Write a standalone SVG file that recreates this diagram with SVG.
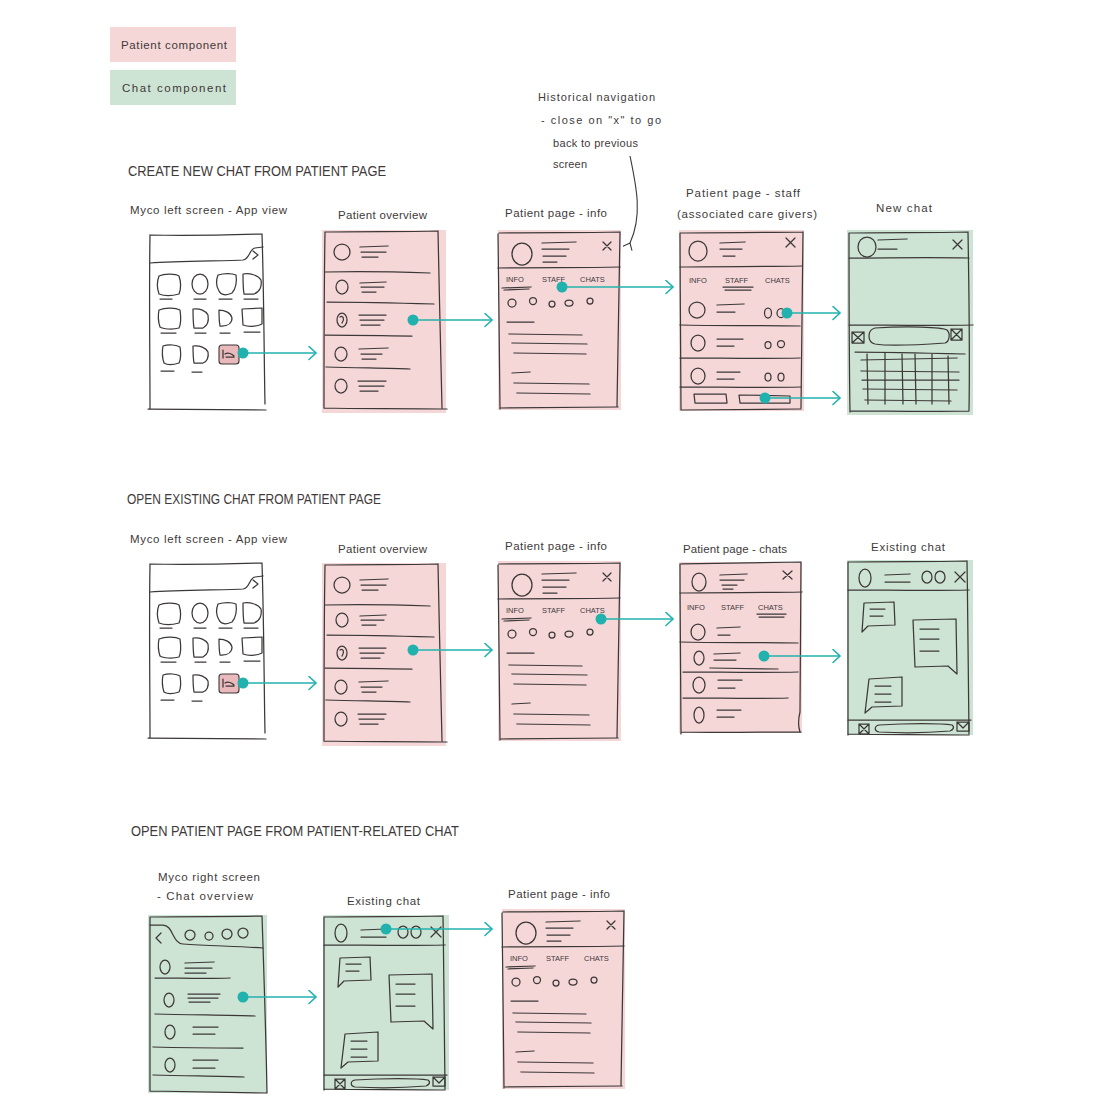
<svg xmlns="http://www.w3.org/2000/svg" xmlns:xlink="http://www.w3.org/1999/xlink" width="1120" height="1120" viewBox="0 0 1120 1120">
<style>
.s{fill:none;stroke:#3d3838;stroke-width:1.25;stroke-linecap:round;stroke-linejoin:round}
.pk{fill:#f5d7d8}
.gr{fill:#cde3d4}
.t{font-family:"Liberation Sans",Arial,sans-serif;fill:#3f3a3a;font-size:11.5px}
.n{font-family:"Liberation Sans",Arial,sans-serif;fill:#3f3a3a;font-size:11px}
.h{font-family:"Liberation Sans",Arial,sans-serif;fill:#3f3a3a;font-size:14px}
.tab{font-family:"Liberation Sans",Arial,sans-serif;fill:#3f3a3a;font-size:7.5px}
.c{fill:none;stroke:#22b2ae;stroke-width:1.6}
.dot{fill:#22b2ae}
</style>
<defs>
<marker id="ah" markerWidth="12" markerHeight="16" refX="8" refY="7" orient="auto" markerUnits="userSpaceOnUse">
<path d="M1,0.5 L8,7 L1,13.5" fill="none" stroke="#22b2ae" stroke-width="1.6" stroke-linecap="round"/>
</marker>
<marker id="ahd" markerWidth="12" markerHeight="12" refX="1" refY="6" orient="auto" markerUnits="userSpaceOnUse">
<path d="M7,1 L1,6 L7,11" fill="none" stroke="#3d3838" stroke-width="1.1"/>
</marker>

<g id="tApp">
<path class="s" d="M2,-1 C40,0 80,-1 114,-2 M114,-2 C116,60 116,120 117,168 M2,-1 C1,60 2,120 2,172 M0,173 C40,173 80,174 118,174"/>
<path class="s" d="M2,27 C30,25 80,25 95,24 C102,23 101,13 107,12 L115,11"/>
<path class="s" d="M105,15 L110,19 L105,23"/>
<path class="s" d="M11,40 C17,37 28,38 31,40 C33,46 33,53 31,58 C24,60 16,60 11,58 C9,52 9,45 11,40 Z"/>
<ellipse class="s" cx="52" cy="48" rx="8" ry="10"/>
<path class="s" d="M70,39 C76,37 84,37 88,39 C89,45 88,53 84,57 C78,60 73,59 71,55 C68,50 68,44 70,39 Z"/>
<path class="s" d="M95,38 C102,37 110,39 113,44 C114,50 112,56 106,58 L96,58 C95,52 95,44 95,38 Z"/>
<path class="s" d="M12,63 L24,63 M46,63 L58,63 M71,63 L84,63 M96,63 L110,63"/>
<path class="s" d="M11,74 C18,71 28,72 32,74 C33,81 33,88 31,92 C24,94 15,93 12,91 C10,85 10,79 11,74 Z"/>
<path class="s" d="M45,73 C52,72 58,75 60,79 C61,85 59,90 55,92 L46,92 C45,86 45,79 45,73 Z"/>
<path class="s" d="M71,74 C77,74 83,77 84,82 C84,87 80,90 74,90 L72,90 C71,85 71,80 71,74 Z"/>
<path class="s" d="M94,73 L114,72 L114,88 C108,91 100,91 95,89 Z"/>
<path class="s" d="M13,97 L28,97 M47,97 L58,97 M72,97 L82,97 M96,96 L112,96"/>
<path class="s" d="M15,110 C21,108 29,109 32,111 C33,117 33,123 31,127 C25,129 19,129 16,127 C14,121 14,115 15,110 Z"/>
<path class="s" d="M45,110 C52,109 58,112 60,116 C61,121 59,126 55,127 L46,127 C45,121 45,115 45,110 Z"/>
<rect x="71" y="109" width="20" height="19" rx="3" fill="#e9b9bb" stroke="#3d3838" stroke-width="1.1"/>
<path class="s" stroke-width="0.8" d="M75,114 L75,122 M77,118 C80,116 84,118 86,120 M78,121 L86,121"/>
<path class="s" d="M13,135 L26,135 M44,136 L54,136"/>
</g>

<g id="tOverview">
<rect class="pk" x="0" y="0" width="124" height="183"/>
<path class="s" d="M3,2 C40,1 80,2 116,1 M116,1 C117,60 119,120 120,178 M3,2 C2,60 2,120 2,178 M2,178 C40,179 80,178 125,179"/>
<ellipse class="s" cx="20" cy="22" rx="8" ry="8"/>
<path class="s" d="M38,17 L66,16 M39,22 L64,22 M40,27 L56,27"/>
<path class="s" d="M3,42 C40,41 80,42 108,43"/>
<ellipse class="s" cx="20" cy="57" rx="6" ry="7"/>
<path class="s" d="M38,53 L64,52 M39,57 L62,57 M40,62 L54,62"/>
<path class="s" d="M5,72 C40,72 80,73 112,74"/>
<ellipse class="s" cx="20" cy="90" rx="5" ry="7"/>
<path class="s" d="M18,87 C21,85 23,89 20,93" />
<path class="s" d="M37,85 L64,85 M38,90 L62,90 M39,95 L58,95"/>
<path class="s" d="M3,105 C40,105 70,106 90,106"/>
<ellipse class="s" cx="19" cy="124" rx="6" ry="7"/>
<path class="s" d="M37,119 L66,118 M39,124 L60,124 M40,129 L54,129"/>
<path class="s" d="M4,137 C40,138 70,138 88,139"/>
<ellipse class="s" cx="19" cy="156" rx="6" ry="7"/>
<path class="s" d="M36,151 L64,151 M37,156 L62,156 M38,161 L56,161"/>
</g>

<g id="tInfo">
<rect class="pk" x="0" y="-2" width="123" height="180"/>
<path class="s" d="M1,1 C40,0 80,1 122,0 M122,0 C121,60 120,120 119,174 M0,2 C1,60 1,120 2,177 M2,176 C40,176 80,175 120,175"/>
<ellipse class="s" cx="24" cy="22" rx="10" ry="11"/>
<path class="s" d="M44,11 L78,10 M44,17 L71,17 M45,24 L68,24 M45,30 L59,30"/>
<path class="s" d="M105,10 L113,18 M113,10 L105,18"/>
<path class="s" d="M0,36 C40,35 80,36 122,35"/>
<text class="tab" x="8" y="50">INFO</text>
<text class="tab" x="44" y="50">STAFF</text>
<text class="tab" x="82" y="50">CHATS</text>
<path class="s" d="M4,56 L33,55 M6,58 L31,57"/>
<ellipse class="s" cx="14" cy="71" rx="4" ry="4"/>
<ellipse class="s" cx="35" cy="69" rx="3.5" ry="3.5"/>
<ellipse class="s" cx="54" cy="72" rx="3" ry="3"/>
<ellipse class="s" cx="71" cy="71" rx="4" ry="3"/>
<ellipse class="s" cx="92" cy="69" rx="3" ry="3"/>
<path class="s" d="M9,90 L36,90 M11,102 L84,103 M14,111 L89,112 M16,121 L88,122 M14,141 L32,140 M16,151 L91,152 M19,161 L92,162"/>
</g>

<g id="tStaff">
<rect class="pk" x="-1" y="-2" width="125" height="181"/>
<path class="s" d="M0,1 C40,0 80,1 123,0 M123,0 C122,60 122,120 121,176 M0,1 C0,60 1,120 1,178 M1,178 C40,178 80,177 121,177"/>
<ellipse class="s" cx="18" cy="19" rx="9" ry="10"/>
<path class="s" d="M40,11 L65,10 M40,17 L62,17 M43,24 L55,24"/>
<path class="s" d="M106,6 L115,15 M115,6 L106,15"/>
<path class="s" d="M0,35 C40,34 80,35 122,34"/>
<text class="tab" x="9" y="51">INFO</text>
<text class="tab" x="45" y="51">STAFF</text>
<text class="tab" x="85" y="51">CHATS</text>
<path class="s" d="M43,55 L73,55 M45,58 L71,58"/>
<ellipse class="s" cx="17" cy="78" rx="8" ry="8"/>
<path class="s" d="M37,73 L64,72 M37,80 L55,80"/>
<ellipse class="s" cx="88" cy="81" rx="3.5" ry="5"/>
<ellipse class="s" cx="101" cy="81" rx="4" ry="4.5"/>
<path class="s" d="M0,93 C40,94 80,93 120,94"/>
<ellipse class="s" cx="18" cy="111" rx="7" ry="8"/>
<path class="s" d="M37,107 L63,107 M37,114 L54,114"/>
<ellipse class="s" cx="88" cy="113" rx="3" ry="3.5"/>
<ellipse class="s" cx="101" cy="112" rx="3.5" ry="3.5"/>
<path class="s" d="M0,126 C40,126 80,127 120,126"/>
<ellipse class="s" cx="18" cy="144" rx="7" ry="8"/>
<path class="s" d="M37,140 L60,140 M37,147 L54,147"/>
<ellipse class="s" cx="88" cy="145" rx="3" ry="4"/>
<ellipse class="s" cx="101" cy="145" rx="3" ry="4"/>
<path class="s" d="M0,155 C40,155 80,156 121,155"/>
<path class="s" d="M14,162 L46,162 L47,171 L15,171 Z"/>
<path class="s" d="M59,163 L110,164 L110,171 L60,171 Z"/>
</g>

<g id="tChats">
<rect class="pk" x="-1" y="0" width="123" height="171"/>
<path class="s" d="M0,2 C40,1 80,1 121,0 M121,0 C121,60 120,120 120,150 C118,158 118,164 120,170 M0,2 C0,60 1,120 1,172 M1,170 C40,171 80,170 121,170"/>
<ellipse class="s" cx="19" cy="20" rx="7" ry="9"/>
<path class="s" d="M40,13 L67,12 M40,18 L64,18 M42,23 L57,23 M43,27 L53,27"/>
<path class="s" d="M103,9 L112,17 M112,9 L103,17"/>
<path class="s" d="M0,31 C40,30 80,31 122,30"/>
<text class="tab" x="7" y="48">INFO</text>
<text class="tab" x="41" y="48">STAFF</text>
<text class="tab" x="78" y="48">CHATS</text>
<path class="s" d="M77,52 L106,52 M79,55 L104,55"/>
<ellipse class="s" cx="18" cy="70" rx="7" ry="8"/>
<path class="s" d="M37,66 L60,65 M38,73 L50,73"/>
<path class="s" d="M0,80 C40,81 80,80 118,81"/>
<ellipse class="s" cx="19" cy="96" rx="5" ry="7"/>
<path class="s" d="M34,92 L60,91 M34,98 L56,98"/>
<path class="s" d="M30,106 L98,107 M3,110 C40,110 80,111 118,110"/>
<ellipse class="s" cx="19" cy="123" rx="6" ry="8"/>
<path class="s" d="M38,118 L62,118 M38,126 L55,126"/>
<path class="s" d="M3,136 C40,136 80,137 108,136"/>
<ellipse class="s" cx="19" cy="153" rx="5" ry="8"/>
<path class="s" d="M37,148 L61,148 M37,155 L54,155"/>
</g>

<g id="tNew">
<rect class="gr" x="0" y="0" width="126" height="185"/>
<path class="s" d="M2,3 C40,2 80,3 121,2 M121,2 C122,60 123,120 122,181 M2,3 C2,60 2,120 3,182 M3,181 C40,181 80,182 122,181"/>
<ellipse class="s" cx="20" cy="17" rx="9" ry="10"/>
<path class="s" d="M31,10 L60,9 M31,19 L50,19"/>
<path class="s" d="M106,10 L115,19 M115,10 L106,19"/>
<path class="s" d="M2,28 C40,28 80,27 122,28"/>
<path class="s" d="M2,95 C40,95 80,96 126,95"/>
<path class="s" d="M5,102 L17,102 L17,113 L5,113 Z M5,102 L17,113 M17,102 L5,113"/>
<path class="s" d="M104,99 L115,99 L115,110 L104,110 Z M104,99 L115,110 M115,99 L104,110"/>
<path class="s" d="M28,98 C60,96 95,97 100,100 C104,104 102,112 98,113 C70,115 40,116 28,114 C20,112 20,100 28,98 Z"/>
<path class="s" d="M8,122 C40,122 80,123 118,124"/>
<path class="s" d="M14,130 L110,128 M14,141 L112,142 M15,150 L112,150 M16,159 L110,160 M18,170 L104,171"/>
<path class="s" d="M20,124 L21,174 M38,123 L38,174 M55,124 L56,174 M68,124 L69,174 M85,124 L85,174 M101,126 L102,174"/>
</g>

<g id="tExist">
<rect class="gr" x="0" y="0" width="126" height="175"/>
<path class="s" d="M1,2 C40,1 80,2 120,1 M120,1 C121,60 121,120 122,174 M1,2 C1,60 1,120 1,175 M1,174 C40,175 80,174 122,175"/>
<ellipse class="s" cx="18" cy="18" rx="6" ry="9"/>
<path class="s" d="M38,15 L63,14 M38,22 L63,22"/>
<ellipse class="s" cx="80" cy="17" rx="5" ry="6"/>
<ellipse class="s" cx="93" cy="17" rx="5" ry="6"/>
<path class="s" d="M108,12 L118,22 M118,12 L108,22"/>
<path class="s" d="M1,30 C40,30 80,31 122,30"/>
<path class="s" d="M17,43 L47,42 L48,65 L21,66 L15,72 Z"/>
<path class="s" d="M23,49 L38,49 M23,56 L36,56"/>
<path class="s" d="M66,60 L109,59 L110,114 L101,106 L68,107 Z"/>
<path class="s" d="M73,69 L92,69 M73,79 L92,79 M73,91 L92,91"/>
<path class="s" d="M22,119 L55,117 L55,146 L25,147 L18,153 Z"/>
<path class="s" d="M28,126 L44,126 M28,134 L44,134 M28,142 L44,142"/>
<path class="s" d="M1,160 C40,160 80,160 124,160"/>
<path class="s" d="M12,164 L22,164 L22,174 L12,174 Z M12,164 L22,174 M22,164 L12,174"/>
<path class="s" d="M32,165 C60,163 95,163 105,165 C108,167 106,170 103,171 C80,173 50,173 32,172 C27,171 27,166 32,165 Z"/>
<path class="s" d="M110,162 L122,162 L122,171 L110,171 Z M110,162 L116,168 L122,162"/>
</g>

<g id="tChatOv">
<rect class="gr" x="0" y="0" width="119" height="178"/>
<path class="s" d="M2,2 C40,1 80,2 114,1 M114,1 C116,60 118,120 119,178 M2,2 C2,60 2,120 2,176 M2,176 C40,177 80,177 119,178"/>
<path class="s" d="M2,10 L15,10 C25,10 24,28 35,29 C60,31 90,31 115,33"/>
<path class="s" d="M13,18 L8,23 L13,28"/>
<ellipse class="s" cx="42" cy="20" rx="5" ry="5"/>
<ellipse class="s" cx="61" cy="21" rx="4" ry="4"/>
<ellipse class="s" cx="79" cy="19" rx="5" ry="5"/>
<ellipse class="s" cx="95" cy="18" rx="5" ry="5"/>
<ellipse class="s" cx="17" cy="52" rx="5" ry="7"/>
<path class="s" d="M37,48 L66,47 M37,53 L64,53 M37,58 L58,58"/>
<path class="s" d="M7,63 C30,63 60,64 82,63"/>
<ellipse class="s" cx="21" cy="85" rx="5" ry="7"/>
<path class="s" d="M40,79 L72,79 M40,83 L70,83 M41,87 L62,87"/>
<path class="s" d="M7,99 C40,100 80,100 107,101"/>
<ellipse class="s" cx="22" cy="117" rx="5" ry="7"/>
<path class="s" d="M45,112 L70,112 M45,119 L67,119"/>
<path class="s" d="M5,132 C40,133 70,133 95,133"/>
<ellipse class="s" cx="22" cy="150" rx="5" ry="7"/>
<path class="s" d="M45,145 L70,145 M45,153 L67,153"/>
<path class="s" d="M5,160 C40,161 70,161 96,162"/>
</g>
</defs>

<rect width="1120" height="1120" fill="#ffffff"/>

<g id="legend">
<rect class="pk" x="110" y="27" width="126" height="35"/>
<text class="t" x="121" y="49" textLength="106">Patient component</text>
<rect class="gr" x="110" y="70" width="126" height="35"/>
<text class="t" x="122" y="92" textLength="104">Chat component</text>
</g>

<g id="titles">
<text class="h" x="128" y="176" textLength="258" lengthAdjust="spacingAndGlyphs">CREATE NEW CHAT FROM PATIENT PAGE</text>
<text class="h" x="127" y="504" textLength="254" lengthAdjust="spacingAndGlyphs">OPEN EXISTING CHAT FROM PATIENT PAGE</text>
<text class="h" x="131" y="836" textLength="328" lengthAdjust="spacingAndGlyphs">OPEN PATIENT PAGE FROM PATIENT-RELATED CHAT</text>
</g>

<g id="note-historical">
<text class="n" x="538" y="101" textLength="117">Historical navigation</text>
<text class="n" x="541" y="124" textLength="120">- close on "x" to go</text>
<text class="n" x="553" y="147" textLength="85">back to previous</text>
<text class="n" x="553" y="168" textLength="34">screen</text>
<path d="M630,156 C636,185 643,215 630,243" fill="none" stroke="#3d3838" stroke-width="1.1" marker-end="url(#ahd)"/>
</g>

<!-- Row 1 -->
<g id="r1-app">
<text class="t" x="130" y="214" textLength="157">Myco left screen - App view</text>
<use href="#tApp" transform="translate(148,236)"/>
</g>
<g id="r1-overview">
<text class="t" x="338" y="219" textLength="89">Patient overview</text>
<use href="#tOverview" transform="translate(322,230)"/>
</g>
<g id="r1-info">
<text class="t" x="505" y="217" textLength="102">Patient page - info</text>
<use href="#tInfo" transform="translate(498,232)"/>
</g>
<g id="r1-staff">
<text class="t" x="686" y="197" textLength="114">Patient page - staff</text>
<text class="t" x="677" y="218" textLength="140">(associated care givers)</text>
<use href="#tStaff" transform="translate(680,232)"/>
</g>
<g id="r1-newchat">
<text class="t" x="876" y="212" textLength="56">New chat</text>
<use href="#tNew" transform="translate(847,230)"/>
</g>

<!-- Row 2 -->
<g id="r2-app">
<text class="t" x="130" y="543" textLength="157">Myco left screen - App view</text>
<use href="#tApp" transform="translate(148,565)"/>
</g>
<g id="r2-overview">
<text class="t" x="338" y="553" textLength="89">Patient overview</text>
<use href="#tOverview" transform="translate(322,563)"/>
</g>
<g id="r2-info">
<text class="t" x="505" y="550" textLength="102">Patient page - info</text>
<use href="#tInfo" transform="translate(498,563)"/>
</g>
<g id="r2-chats">
<text class="t" x="683" y="553" textLength="104">Patient page - chats</text>
<use href="#tChats" transform="translate(680,562)"/>
</g>
<g id="r2-existing">
<text class="t" x="871" y="551" textLength="74">Existing chat</text>
<use href="#tExist" transform="translate(847,560)"/>
</g>

<!-- Row 3 -->
<g id="r3-chatoverview">
<text class="t" x="158" y="881" textLength="102">Myco right screen</text>
<text class="t" x="157" y="900" textLength="96">- Chat overview</text>
<use href="#tChatOv" transform="translate(148,915)"/>
</g>
<g id="r3-existing">
<text class="t" x="347" y="905" textLength="73">Existing chat</text>
<use href="#tExist" transform="translate(323,915)"/>
</g>
<g id="r3-info">
<text class="t" x="508" y="898" textLength="102">Patient page - info</text>
<use href="#tInfo" transform="translate(502,911)"/>
</g>

<g id="connectors">
<path class="c" marker-end="url(#ah)" d="M243,353 L316,353"/>
<path class="c" marker-end="url(#ah)" d="M413,320 L492,320"/>
<path class="c" marker-end="url(#ah)" d="M562,287 L673,287"/>
<path class="c" marker-end="url(#ah)" d="M787,313 L840,313"/>
<path class="c" marker-end="url(#ah)" d="M765,398 L840,398"/>
<path class="c" marker-end="url(#ah)" d="M243,683 L316,683"/>
<path class="c" marker-end="url(#ah)" d="M413,650 L492,650"/>
<path class="c" marker-end="url(#ah)" d="M601,619 L673,619"/>
<path class="c" marker-end="url(#ah)" d="M764,656 L840,656"/>
<path class="c" marker-end="url(#ah)" d="M243,997 L316,997"/>
<path class="c" marker-end="url(#ah)" d="M386,929 L492,929"/>
<circle class="dot" cx="243" cy="353" r="5.5"/>
<circle class="dot" cx="413" cy="320" r="5.5"/>
<circle class="dot" cx="562" cy="287" r="5.5"/>
<circle class="dot" cx="787" cy="313" r="5.5"/>
<circle class="dot" cx="765" cy="398" r="5.5"/>
<circle class="dot" cx="243" cy="683" r="5.5"/>
<circle class="dot" cx="413" cy="650" r="5.5"/>
<circle class="dot" cx="601" cy="619" r="5.5"/>
<circle class="dot" cx="764" cy="656" r="5.5"/>
<circle class="dot" cx="243" cy="997" r="5.5"/>
<circle class="dot" cx="386" cy="929" r="5.5"/>
</g>
</svg>
